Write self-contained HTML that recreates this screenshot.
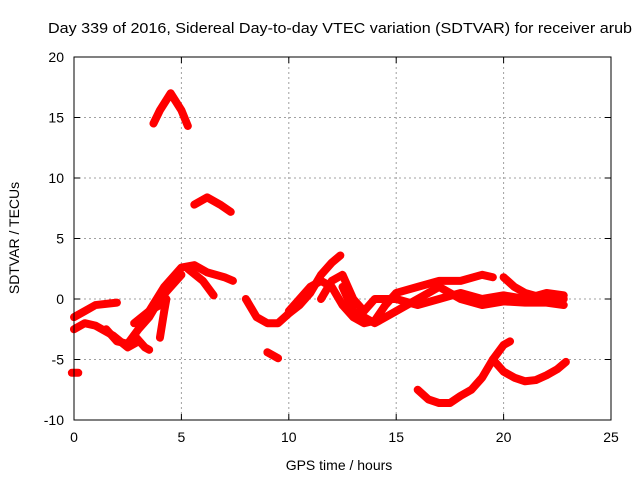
<!DOCTYPE html>
<html><head><meta charset="utf-8"><style>
body{margin:0;background:#fff;}
svg{display:block;font-family:"Liberation Sans",sans-serif;}
</style></head><body>
<svg id="chart" width="640" height="480">
<text x="48" y="33" font-size="15" textLength="584" lengthAdjust="spacingAndGlyphs">Day 339 of 2016, Sidereal Day-to-day VTEC variation (SDTVAR) for receiver arub</text>
<text x="339" y="470" font-size="14" text-anchor="middle">GPS time / hours</text>
<text transform="translate(19,238) rotate(-90)" font-size="14" text-anchor="middle">SDTVAR / TECUs</text>
<g id="grid"></g><g id="series"></g><g id="axes"></g>
</svg>
<script>
const xTicks=[0,5,10,15,20,25];
const yTicks=[-10,-5,0,5,10,15,20];
const trackA=[[3.7,14.5],[4.0,15.6],[4.5,17],[5.0,15.6],[5.3,14.3]];
const trackB=[[5.6,7.8],[6.2,8.4],[6.8,7.8],[7.3,7.2]];
const trackC=[[3.5,-1],[4.2,1],[5,2.6],[5.6,2.8],[6.2,2.2],[7,1.8],[7.4,1.5]];
const trackD=[[5.3,2.5],[6.0,1.5],[6.5,0.3]];
const trackE=[[0,-1.5],[0.5,-1],[1,-0.5],[2,-0.3]];
const trackF=[[0,-2.5],[0.5,-2],[1,-2.2],[1.8,-3],[2.5,-4],[3,-3.5]];
const trackG=[[1.5,-2.5],[2,-3.5],[2.5,-3.7],[3,-2.5],[3.5,-1.5],[4,0],[4.5,1],[5,2]];
const trackH=[[2.8,-2],[3.5,-1],[4,-0.5]];
const trackI=[[2.8,-3],[3.3,-4],[3.5,-4.2]];
const trackJ=[[4.0,-3.2],[4.2,-1],[4.3,0]];
const trackK=[[-0.1,-6.1],[0.2,-6.1]];
const trackL=[[8,0],[8.5,-1.5],[9,-2],[9.5,-2],[10,-1.2],[10.5,-0.5],[11,0.5],[11.5,2],[12,3],[12.4,3.6]];
const trackM=[[9,-4.4],[9.5,-4.9]];
const trackN=[[10,-1],[10.5,0],[11,1],[11.5,1.5],[12,1],[12.5,-0.5],[13,-1.5],[13.5,-2],[14,-1.8],[14.5,-0.5],[15,0.5],[16,1],[17,1.5],[18,1.5],[19,2],[19.5,1.8]];
const trackO=[[11.5,0],[12,1.5],[12.5,2],[13,0],[13.5,-1],[14,0],[15,0],[16,-0.5],[17,0],[18,0.5],[19,0],[20,0.3],[21,0],[22,0.5],[22.8,0.3]];
const trackP=[[12.5,1],[13,-1],[14,-2],[15,-1],[16,0],[17,1],[18,0],[19,-0.5],[20,-0.2],[21,-0.3],[22,-0.3],[22.8,-0.5]];
const trackQ=[[20,1.8],[20.5,1],[21,0.5],[22,0],[22.8,0]];
const trackR=[[16,-7.5],[16.5,-8.3],[17,-8.6],[17.5,-8.6],[18,-8],[18.5,-7.5],[19,-6.5],[19.5,-5],[20,-3.8],[20.3,-3.5]];
const trackS=[[19.5,-5],[20,-6],[20.5,-6.5],[21,-6.8],[21.5,-6.7],[22,-6.3],[22.5,-5.8],[22.9,-5.2]];
const tracks=[trackA,trackB,trackC,trackD,trackE,trackF,trackG,trackH,trackI,trackJ,trackK,trackL,trackM,trackN,trackO,trackP,trackQ,trackR,trackS];

const L=74,R=611,T=57,B=420;
const sx=v=>L+(v-0)/25*(R-L);
const sy=v=>B-(v+10)/30*(B-T);
const NS="http://www.w3.org/2000/svg";
function mk(tag,attrs,parent){const e=document.createElementNS(NS,tag);for(const k in attrs)e.setAttribute(k,attrs[k]);parent.appendChild(e);return e;}
const grid=document.getElementById('grid'),axes=document.getElementById('axes'),ser=document.getElementById('series');
xTicks.forEach(t=>{
  const x=sx(t);
  if(t>0&&t<25){const g=mk('line',{x1:x,x2:x,y1:T,y2:B,stroke:'#a0a0a0','stroke-dasharray':'2,3'},grid);
  
  }
  mk('line',{x1:x,x2:x,y1:B,y2:B-6,stroke:'#000'},axes);
  mk('line',{x1:x,x2:x,y1:T,y2:T+6,stroke:'#000'},axes);
  const lb=mk('text',{x:x,y:B+22,'font-size':14,'text-anchor':'middle'},axes);
  lb.textContent=t;
  
  
});
yTicks.forEach(t=>{
  const y=sy(t);
  if(t>-10&&t<20){const g=mk('line',{x1:L,x2:R,y1:y,y2:y,stroke:'#a0a0a0','stroke-dasharray':'2,3'},grid);
  
  }
  mk('line',{x1:L,x2:L+6,y1:y,y2:y,stroke:'#000'},axes);
  mk('line',{x1:R,x2:R-6,y1:y,y2:y,stroke:'#000'},axes);
  const lb=mk('text',{x:L-10,y:y+5,'font-size':14,'text-anchor':'end'},axes);
  lb.textContent=t;
  
  
});
const border=mk('rect',{x:L,y:T,width:R-L,height:B-T,fill:'none',stroke:'#000'},axes);


tracks.forEach(tr=>{
  const pts=tr.map(p=>sx(p[0])+','+sy(p[1])).join(' ');
  const pl=mk('polyline',{points:pts,fill:'none',stroke:'#ff0000','stroke-width':8,'stroke-linejoin':'round','stroke-linecap':'round'},ser);
  
  
});
</script>
</body></html>
